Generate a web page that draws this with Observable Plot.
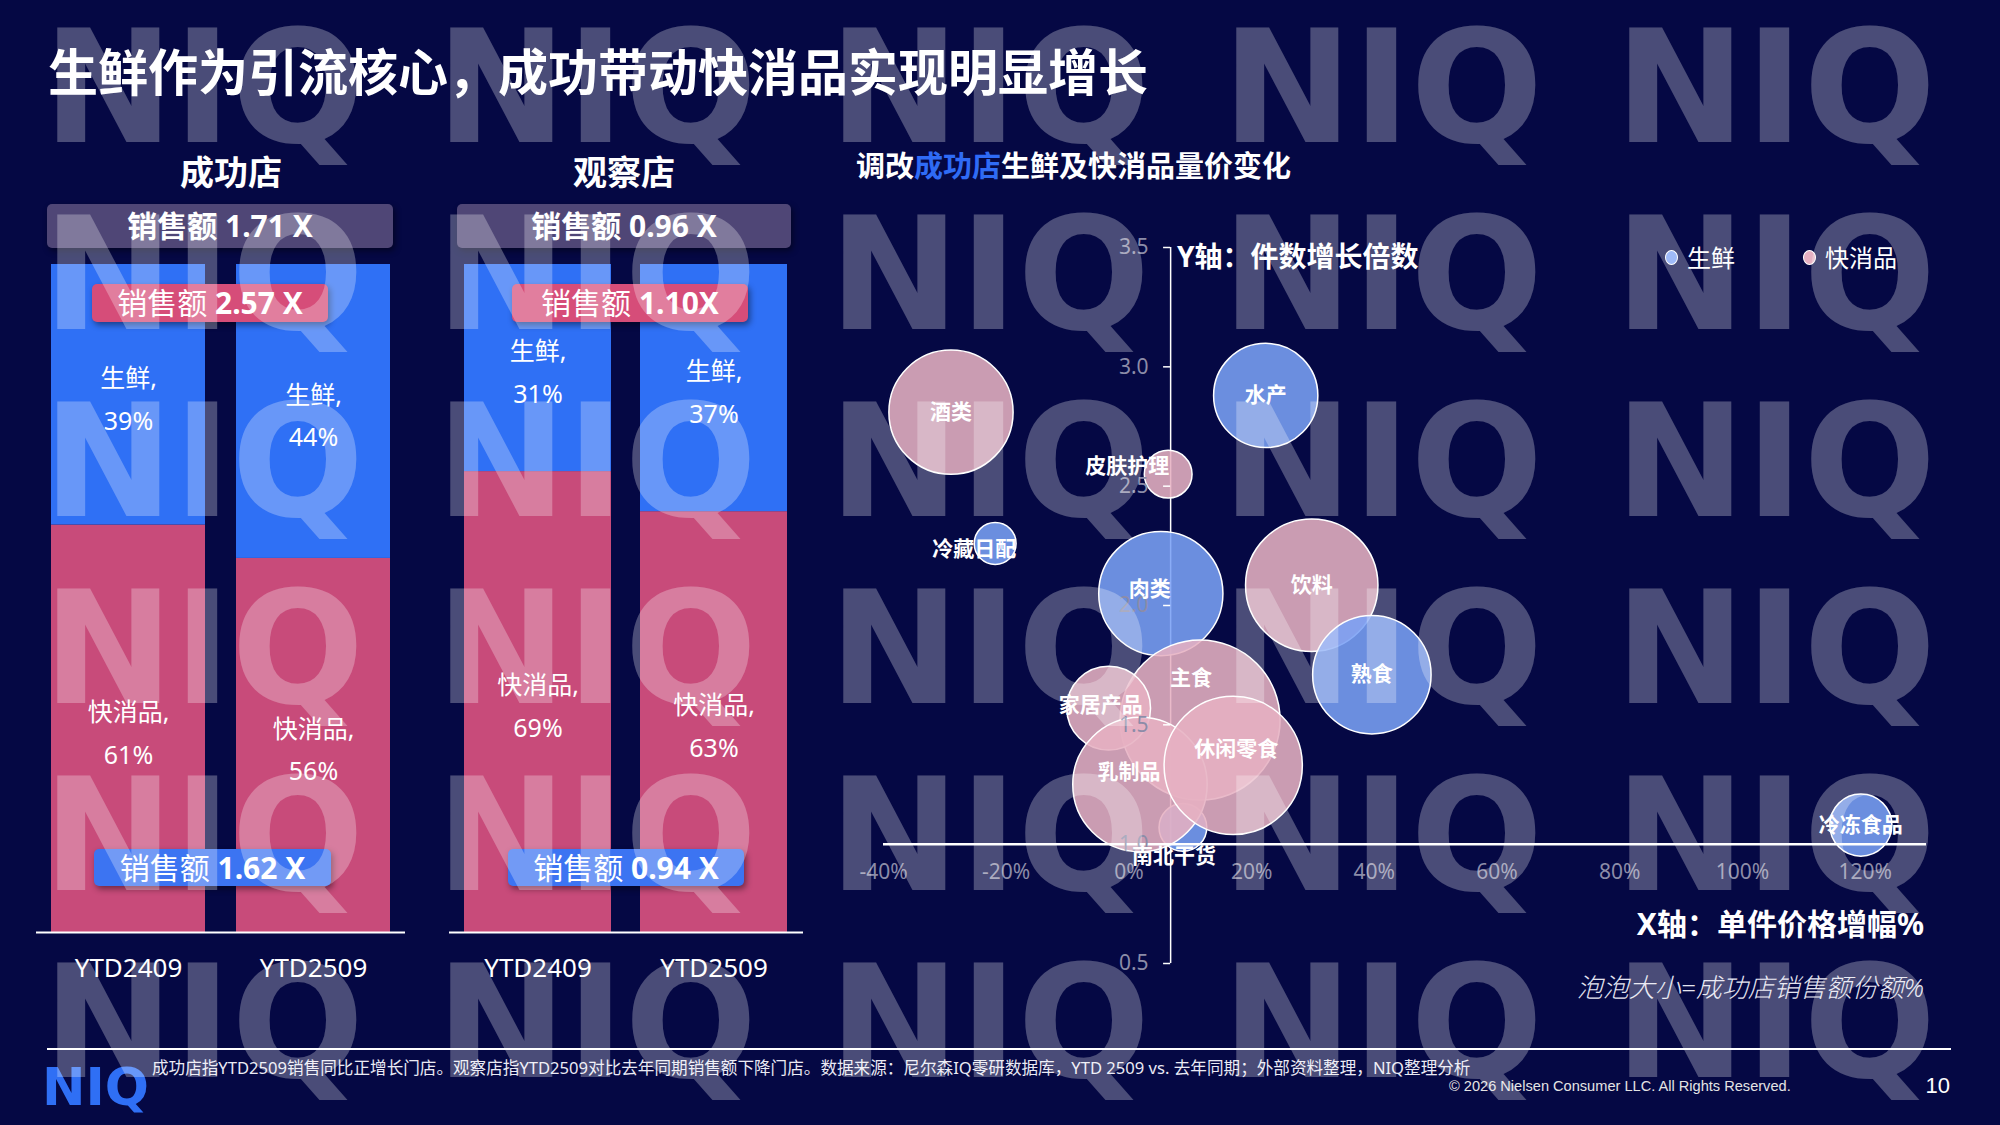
<!DOCTYPE html>
<html>
<head>
<meta charset="utf-8">
<script src="https://cdn.jsdelivr.net/npm/d3@7"></script>
<script src="https://cdn.jsdelivr.net/npm/@observablehq/plot@0.6"></script>
<style>
html,body{margin:0;padding:0;background:#050844;}
#root{position:relative;width:2000px;height:1125px;overflow:hidden;background:#050844;font-family:"Noto Sans","Noto Sans CJK SC",sans-serif;color:#fff;}
.abs{position:absolute;white-space:nowrap;line-height:1;}
.box{position:absolute;display:flex;align-items:center;justify-content:center;border-radius:5px;box-shadow:2px 3px 6px rgba(0,0,0,0.45);font-size:30px;color:#fff;white-space:nowrap;line-height:1;}
.layer{position:absolute;left:0;top:0;}
</style>
</head>
<body>
<div id="root"></div>
<script>
// ---------------- DATA ----------------
const pageTitle = "生鲜作为引流核心，成功带动快消品实现明显增长";
const storeNames = ["成功店", "观察店"];
const periods = ["YTD2409", "YTD2509"];
const segments = ["快消品", "生鲜"];
const successFresh = [39, 44];
const successFmcg = [61, 56];
const watchFresh = [31, 37];
const watchFmcg = [69, 63];
const totalGrowth = ["1.71 X", "0.96 X"];
const freshGrowth = ["2.57 X", "1.10X"];
const fmcgGrowth = ["1.62 X", "0.94 X"];

const bubbleNames = ["酒类", "水产", "皮肤护理", "冷藏日配", "肉类", "饮料", "熟食", "南北干货", "主食", "家居产品", "乳制品", "休闲零食", "冷冻食品"];
const bubbleTypes = ["快消品", "生鲜", "快消品", "生鲜", "生鲜", "快消品", "生鲜", "生鲜", "快消品", "快消品", "快消品", "快消品", "生鲜"];
const priceGrowth = [-29.0, 22.3, 6.4, -21.8, 5.2, 29.8, 39.6, 8.8, 11.6, -3.3, 1.8, 17.0, 119.3];
const unitMultiple = [2.81, 2.88, 2.55, 2.26, 2.05, 2.085, 1.71, 1.07, 1.52, 1.57, 1.25, 1.33, 1.08];
const salesShare = [8.8, 6.2, 1.3, 1.0, 8.8, 10.0, 8.0, 1.3, 14.6, 4.0, 10.3, 10.9, 2.2];
const yTicks = [0.5, 1.0, 1.5, 2.0, 2.5, 3.0, 3.5];
const xTicks = [-40, -20, 0, 20, 40, 60, 80, 100, 120];
const yAxisCross = 6.8;

const chartTitle = '调改<span style="color:#2f6bf5">成功店</span>生鲜及快消品量价变化';
const yAxisTitle = "Y轴：件数增长倍数";
const xAxisTitle = "X轴：单件价格增幅%";
const sizeNote = "泡泡大小=成功店销售额份额%";
const footnote = "成功店指YTD2509销售同比正增长门店。观察店指YTD2509对比去年同期销售额下降门店。数据来源：尼尔森IQ零研数据库，YTD 2509 vs. 去年同期；外部资料整理，NIQ整理分析";
const copyright = "© 2026 Nielsen Consumer LLC. All Rights Reserved.";
const pageNo = "10";

// ---------------- STYLE ----------------
const FONT = '"Noto Sans","Noto Sans CJK SC",sans-serif';
const BAR_BLUE = "#2f70f5";
const BAR_PINK = "#c84b7a";
const BUB_BLUE = "#7aa0f5";
const BUB_PINK = "#e6b0c2";
const TICK_GRAY = "#8c8ca8";

const root = document.getElementById("root");

function txt(html, o) {
  const d = document.createElement("div");
  d.className = "abs";
  d.innerHTML = html;
  d.style.fontSize = o.size + "px";
  d.style.fontWeight = o.weight || 400;
  if (o.color) d.style.color = o.color;
  if (o.italic) d.style.fontStyle = "italic";
  if (o.family) d.style.fontFamily = o.family;
  d.style.top = (o.cy - 0.55 * o.size) + "px";
  if (o.center != null) { d.style.left = o.center + "px"; d.style.transform = "translateX(-50%)"; }
  else if (o.right != null) { d.style.right = (2000 - o.right) + "px"; }
  else d.style.left = o.left + "px";
  root.appendChild(d);
  return d;
}
function box(html, o) {
  const d = document.createElement("div");
  d.className = "box";
  d.innerHTML = html;
  Object.assign(d.style, {left: o.left + "px", top: o.top + "px", width: o.width + "px", height: o.height + "px", background: o.bg});
  root.appendChild(d);
  return d;
}
function holder(node, left, top) {
  const d = document.createElement("div");
  d.style.position = "absolute";
  d.style.left = left + "px";
  d.style.top = top + "px";
  d.appendChild(node);
  root.appendChild(d);
}

// ---------------- TITLE ----------------
txt(pageTitle, {left: 48, cy: 74, size: 50, weight: 700});

// ---------------- BAR PANELS ----------------
function barPanel(fresh, fmcg, left, width, pi, po) {
  const data = [];
  periods.forEach((p, i) => {
    data.push({period: p, seg: segments[0], value: fmcg[i]});
    data.push({period: p, seg: segments[1], value: fresh[i]});
  });
  const chart = Plot.plot({
    width, height: 800,
    marginLeft: 0, marginRight: 0, marginTop: 64, marginBottom: 68,
    style: {background: "transparent", color: "white", fontFamily: FONT, fontSize: "26px", overflow: "visible", maxWidth: "none"},
    x: {domain: periods, paddingInner: pi, paddingOuter: po, label: null},
    y: {domain: [0, 100], axis: null},
    color: {domain: segments, range: [BAR_PINK, BAR_BLUE]},
    marks: [
      Plot.barY(data, {x: "period", y: "value", fill: "seg"}),
      Plot.text(data, Plot.stackY({x: "period", y: "value", z: "seg", text: d => `${d.seg},\n${d.value}%`, fill: "white", fontSize: 25, lineHeight: 1.7})),
      Plot.ruleY([0], {stroke: "white", strokeWidth: 2}),
      Plot.axisX({tickSize: 0, tickPadding: 26, fontSize: 26, label: null, fill: "white"})
    ]
  });
  holder(chart, left, 200);
}
barPanel(successFresh, successFmcg, 36, 369, 0.1676, 0.081);
barPanel(watchFresh, watchFmcg, 449, 354, 0.1638, 0.082);

// panel headers and annotation boxes
txt(storeNames[0], {center: 231, cy: 174, size: 34, weight: 700});
txt(storeNames[1], {center: 624, cy: 174, size: 34, weight: 700});
box(`<b>销售额 ${totalGrowth[0]}</b>`, {left: 47, top: 204, width: 346, height: 44, bg: "#4f4676"});
box(`<b>销售额 ${totalGrowth[1]}</b>`, {left: 457, top: 204, width: 334, height: 44, bg: "#4f4676"});
box(`销售额&nbsp;<b>${freshGrowth[0]}</b>`, {left: 92, top: 284, width: 236, height: 38, bg: "#d64d79"});
box(`销售额&nbsp;<b>${freshGrowth[1]}</b>`, {left: 512, top: 284, width: 236, height: 38, bg: "#d64d79"});
box(`销售额&nbsp;<b>${fmcgGrowth[0]}</b>`, {left: 94, top: 849, width: 237, height: 37, bg: "#3c74f2"});
box(`销售额&nbsp;<b>${fmcgGrowth[1]}</b>`, {left: 508, top: 849, width: 236, height: 37, bg: "#3c74f2"});

// ---------------- BUBBLE CHART ----------------
const bubbles = bubbleNames.map((name, i) => ({name, type: bubbleTypes[i], x: priceGrowth[i], y: unitMultiple[i], share: salesShare[i]}));
const labelOffsets = {
  "皮肤护理": [-41, -8], "冷藏日配": [-21, 6], "肉类": [-11, -4], "主食": [-9, -42],
  "家居产品": [-8, -3], "休闲零食": [3, -16], "乳制品": [-11, -12], "南北干货": [-9, 29]
};
const bubbleChart = Plot.plot({
  width: 1120, height: 800,
  marginLeft: 43, marginRight: 34, marginTop: 47, marginBottom: 37,
  style: {background: "transparent", color: "white", fontFamily: FONT, overflow: "visible", maxWidth: "none"},
  x: {domain: [-40, 130], axis: null},
  y: {domain: [0.5, 3.5], axis: null},
  r: {domain: [0, 14.6], range: [0, 80]},
  color: {domain: ["生鲜", "快消品"], range: [BUB_BLUE, BUB_PINK]},
  marks: [
    Plot.ruleX([yAxisCross], {y1: 0.5, y2: 3.5, stroke: "white", strokeWidth: 1.5}),
    Plot.dot(bubbles, {x: "x", y: "y", r: "share", fill: "type", fillOpacity: 0.88, stroke: "white", strokeWidth: 1.5, sort: null}),
    Plot.ruleY(yTicks, {x1: yAxisCross - 1.15, x2: yAxisCross, stroke: "white", strokeWidth: 1.5}),
    Plot.ruleY([1], {x1: -40, x2: 130, stroke: "white", strokeWidth: 2.5}),
    Plot.text(yTicks, {x: yAxisCross, y: d => d, text: d => d.toFixed(1), textAnchor: "end", dx: -22, fill: TICK_GRAY, fontSize: 21}),
    Plot.text(xTicks, {x: d => d, y: 1, dy: 28, text: d => d + "%", fill: TICK_GRAY, fontSize: 21}),
    ...bubbles.map(b => {
      const off = labelOffsets[b.name] || [0, 0];
      return Plot.text([b], {x: "x", y: "y", text: "name", dx: off[0], dy: off[1], fill: "white", fontWeight: "bold", fontSize: 21});
    })
  ]
});
holder(bubbleChart, 840, 200);

txt(chartTitle, {left: 856, cy: 167, size: 29, weight: 700});
txt(yAxisTitle, {left: 1177, cy: 257, size: 28, weight: 700});
txt(xAxisTitle, {right: 1924, cy: 925, size: 30, weight: 700});
txt(sizeNote, {right: 1924, cy: 988, size: 26, weight: 300, italic: true, color: "#e4e4f0"});

// legend
function legendItem(cx, label, color) {
  const dot = document.createElement("div");
  Object.assign(dot.style, {position: "absolute", left: (cx - 7) + "px", top: (258 - 8) + "px", width: "13px", height: "15px", borderRadius: "50%", background: color, border: "1.5px solid white", boxSizing: "border-box"});
  root.appendChild(dot);
  txt(label, {left: cx + 15, cy: 259, size: 24});
}
legendItem(1672, segments[1], BUB_BLUE);
legendItem(1810, segments[0], BUB_PINK);

// ---------------- FOOTER ----------------
const line = document.createElement("div");
Object.assign(line.style, {position: "absolute", left: "47px", top: "1048px", width: "1904px", height: "2px", background: "white"});
root.appendChild(line);
txt(footnote, {left: 152, cy: 1069, size: 16.6, color: "#eaeaf4"});
txt(copyright, {left: 1449, cy: 1087, size: 14.6, family: '"Liberation Sans",Arial,sans-serif', color: "#e4e4e4"});
txt(pageNo, {right: 1950, cy: 1087, size: 22, family: '"Liberation Sans",Arial,sans-serif'});

const NS = "http://www.w3.org/2000/svg";
const logo = document.createElementNS(NS, "svg");
logo.setAttribute("width", 2000); logo.setAttribute("height", 1125);
logo.setAttribute("class", "layer");
logo.innerHTML = `<text x="42" y="1105" font-family="DejaVu Sans" font-weight="bold" font-size="52" fill="#2f6ff5">NIQ</text>`;
root.appendChild(logo);

// ---------------- WATERMARK ----------------
const wm = document.createElementNS(NS, "svg");
wm.setAttribute("width", 2000); wm.setAttribute("height", 1125);
wm.setAttribute("class", "layer");
wm.style.pointerEvents = "none";
let s = "";
for (let r = 0; r < 7; r++) {
  for (let c = 0; c < 6; c++) {
    s += `<text x="${57 + 393 * c - 14}" y="${28 + 187 * r + 114}" font-family="DejaVu Sans" font-weight="bold" font-size="156" fill="rgba(255,255,255,0.28)">NIQ</text>`;
  }
}
wm.innerHTML = s;
root.appendChild(wm);
</script>
</body>
</html>
